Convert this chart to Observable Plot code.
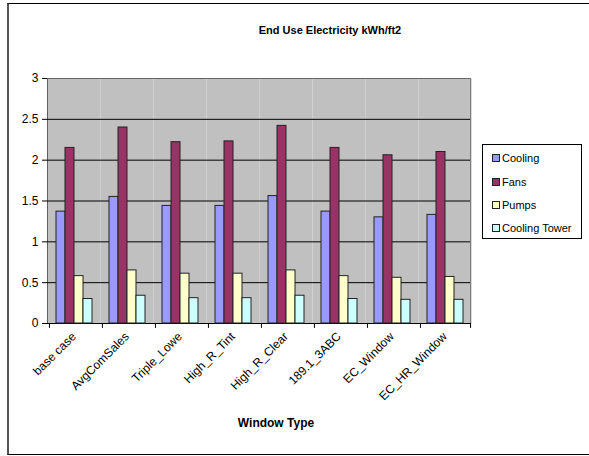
<!DOCTYPE html>
<html><head><meta charset="utf-8">
<script src="https://cdn.jsdelivr.net/npm/d3@7"></script>
<script src="https://cdn.jsdelivr.net/npm/@observablehq/plot@0.6"></script>
<style>
body{margin:0;background:#fff;font-family:"Liberation Sans",Arial,sans-serif;}
#wrap{position:relative;width:589px;height:456px;overflow:hidden;}
#border{position:absolute;left:7px;top:3px;width:640px;height:452px;border:1px solid #000;border-left:2px solid #555;box-sizing:border-box;}
#title{position:absolute;left:180px;width:300px;top:24px;text-align:center;font-weight:bold;font-size:11px;}
#xlab{position:absolute;left:176px;width:200px;top:416px;text-align:center;font-weight:bold;font-size:12px;}
#legend{position:absolute;left:482px;top:144px;width:100px;height:95px;border:1px solid #000;box-sizing:border-box;background:#fff;font-size:11px;}
.item{position:absolute;left:9px;height:14px;line-height:14px;white-space:nowrap;}
.sw{display:inline-block;width:6px;height:6px;border:1px solid #222;margin-right:2px;vertical-align:0px;}
#chart{position:absolute;left:0;top:0;}
</style></head>
<body>
<div id="wrap">
  <div id="chart"></div>
  <div id="border"></div>
  <div id="title">End Use Electricity kWh/ft2</div>
  <div id="xlab">Window Type</div>
  <div id="legend"></div>
</div>
<script>
const categories = ["base case","AvgComSales","Triple_Lowe","High_R_Tint","High_R_Clear","189.1_3ABC","EC_Window","EC_HR_Window"];
const series = ["Cooling","Fans","Pumps","Cooling Tower"];
const cooling = [1.37,1.55,1.44,1.44,1.56,1.37,1.30,1.33];
const fans = [2.15,2.40,2.22,2.23,2.42,2.15,2.06,2.10];
const pumps = [0.58,0.65,0.61,0.61,0.65,0.58,0.56,0.57];
const tower = [0.30,0.34,0.31,0.31,0.34,0.30,0.29,0.29];
const colors = ["#9999ff","#993366","#ffffcc","#ccffff"];
const yTicks = [0,0.5,1,1.5,2,2.5,3];

const values = [cooling, fans, pumps, tower];
const data = [];
categories.forEach((c,i)=>series.forEach((s,j)=>data.push({cat:c, series:s, value:values[j][i]})));

const W = 589, mL = 47, mR = 118;
const padOuter = 0.66;
const facetW = (W - mL - mR) / categories.length;
const step = facetW / (series.length + 2 * padOuter);
const edgeOff = padOuter * step + step / 2;

const plot = Plot.plot({
  width:W, height:456,
  marginTop:78, marginLeft:mL, marginRight:mR, marginBottom:133,
  style:{fontFamily:"'Liberation Sans', Arial, sans-serif", fontSize:"12px", background:"transparent", color:"#000"},
  fx:{domain:categories, padding:0, label:null},
  x:{domain:series, paddingInner:0, paddingOuter:padOuter, axis:null},
  y:{domain:[0,3], label:null, ticks:yTicks, tickSize:5, tickPadding:4, tickFormat:d=>String(d), line:true},
  color:{domain:series, range:colors},
  marks:[
    Plot.frame({fill:"#c0c0c0"}),
    Plot.ruleY(yTicks.filter(d=>d<3), {stroke:"#000", strokeWidth:1}),
    Plot.ruleY([3], {stroke:"#666", strokeWidth:1}),
    Plot.barY(data, {fx:"cat", x:"series", y:"value", fill:"series", stroke:"#222", strokeWidth:1}),
    Plot.axisFx({anchor:"bottom", tickRotate:-45, tickSize:0, tickPadding:11, label:null, fontSize:12}),
    // category boundary ticks (left edge of each category)
    Plot.ruleX(categories, {fx:d=>d, x:()=>series[0], y1:0, y2:-0.06, dx:-edgeOff, stroke:"#000"}),
    // right edge tick and plot-area right border
    Plot.ruleX(categories.slice(-1), {fx:d=>d, x:()=>series[series.length-1], y1:0, y2:-0.06, dx:edgeOff, stroke:"#000"}),
    Plot.ruleX(categories.slice(-1), {fx:d=>d, x:()=>series[series.length-1], y1:0, y2:3, dx:edgeOff, stroke:"#777"})
  ]
});
document.getElementById("chart").appendChild(plot);

const leg = document.getElementById("legend");
const rowsY = [6, 30, 53, 76];
series.forEach((s,i)=>{
  const d = document.createElement("div");
  d.className = "item";
  d.style.top = rowsY[i] + "px";
  d.innerHTML = `<span class="sw" style="background:${colors[i]}"></span>${s}`;
  leg.appendChild(d);
});
</script>
</body></html>
